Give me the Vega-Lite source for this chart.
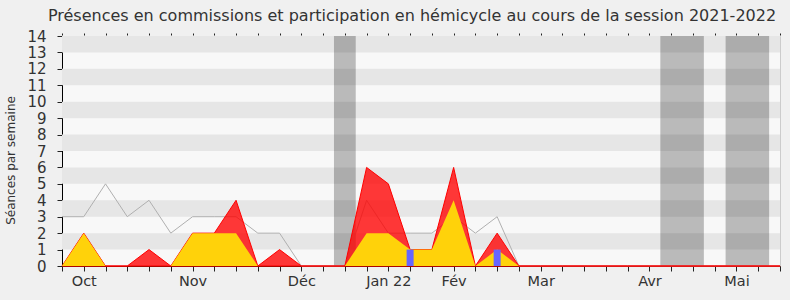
{
  "$schema": "https://vega.github.io/schema/vega-lite/v6.json",
  "autosize": {"type": "none"},
  "width": 718,
  "height": 230,
  "padding": {"left": 62, "top": 36, "right": 10, "bottom": 34},
  "background": "#f0f0f0",
  "title": {
    "text": "Présences en commissions et participation en hémicycle au cours de la session 2021-2022",
    "font": "DejaVu Sans",
    "fontSize": 16,
    "fontWeight": "normal",
    "color": "#333333",
    "anchor": "middle",
    "dx": -9,
    "offset": 5
  },
  "config": {
    "view": {"fill": "#f8f8f8", "stroke": "#cccccc"},
    "axis": {"labelFont": "DejaVu Sans", "titleFont": "DejaVu Sans", "labelColor": "#333333", "titleColor": "#333333", "domainColor": "#000000", "tickColor": "#222222", "grid": false, "labelOverlap": false, "tickCount": 100, "zindex": 1}
  },
  "datasets": {
    "weeks": [
      {"w": 0, "median": 3, "presence": 0, "participation": 0},
      {"w": 1, "median": 3, "presence": 2, "participation": 2},
      {"w": 2, "median": 5, "presence": 0, "participation": 0},
      {"w": 3, "median": 3, "presence": 0, "participation": 0},
      {"w": 4, "median": 4, "presence": 1, "participation": 0},
      {"w": 5, "median": 2, "presence": 0, "participation": 0},
      {"w": 6, "median": 3, "presence": 2, "participation": 2},
      {"w": 7, "median": 3, "presence": 2, "participation": 2},
      {"w": 8, "median": 3, "presence": 4, "participation": 2},
      {"w": 9, "median": 2, "presence": 0, "participation": 0},
      {"w": 10, "median": 2, "presence": 1, "participation": 0},
      {"w": 11, "median": 0, "presence": 0, "participation": 0},
      {"w": 12, "median": 0, "presence": 0, "participation": 0},
      {"w": 13, "median": 0, "presence": 0, "participation": 0},
      {"w": 14, "median": 4, "presence": 6, "participation": 2},
      {"w": 15, "median": 2, "presence": 5, "participation": 2},
      {"w": 16, "median": 2, "presence": 1, "participation": 1},
      {"w": 17, "median": 2, "presence": 1, "participation": 1},
      {"w": 18, "median": 3, "presence": 6, "participation": 4},
      {"w": 19, "median": 2, "presence": 0, "participation": 0},
      {"w": 20, "median": 3, "presence": 2, "participation": 1},
      {"w": 21, "median": 0, "presence": 0, "participation": 0},
      {"w": 22, "median": 0, "presence": 0, "participation": 0},
      {"w": 23, "median": 0, "presence": 0, "participation": 0},
      {"w": 24, "median": 0, "presence": 0, "participation": 0},
      {"w": 25, "median": 0, "presence": 0, "participation": 0},
      {"w": 26, "median": 0, "presence": 0, "participation": 0},
      {"w": 27, "median": 0, "presence": 0, "participation": 0},
      {"w": 28, "median": 0, "presence": 0, "participation": 0},
      {"w": 29, "median": 0, "presence": 0, "participation": 0},
      {"w": 30, "median": 0, "presence": 0, "participation": 0},
      {"w": 31, "median": 0, "presence": 0, "participation": 0},
      {"w": 32, "median": 0, "presence": 0, "participation": 0},
      {"w": 33, "median": 0, "presence": 0, "participation": 0}
    ],
    "questions": [
      {"w": 16, "q": 1},
      {"w": 20, "q": 1}
    ],
    "stripes": [
      {"lo": 1, "hi": 2}, {"lo": 3, "hi": 4}, {"lo": 5, "hi": 6}, {"lo": 7, "hi": 8},
      {"lo": 9, "hi": 10}, {"lo": 11, "hi": 12}, {"lo": 13, "hi": 14}
    ],
    "breaks": [
      {"start": 12.5, "end": 13.5},
      {"start": 27.5, "end": 29.5},
      {"start": 30.5, "end": 32.5}
    ]
  },
  "resolve": {"axis": {"x": "independent"}},
  "layer": [
    {
      "layer": [
        {
          "data": {"name": "stripes"},
          "mark": {"type": "rect", "color": "#e6e6e6"},
          "encoding": {
            "y": {"field": "lo", "type": "quantitative", "scale": {"domain": [0, 14], "nice": false, "padding": 0}, "axis": {"values": [0,1,2,3,4,5,6,7,8,9,10,11,12,13,14], "format": "d", "tickCount": 100, "title": "Séances par semaine", "titleFontSize": 12, "titleFontWeight": "normal", "labelFontSize": 15, "tickSize": 5, "labelPadding": 11, "titlePadding": 9, "titleY": 124}},
            "y2": {"field": "hi"}
          }
        },
        {
          "data": {"name": "breaks"},
          "mark": {"type": "rect", "color": "#000000", "opacity": 0.25},
          "encoding": {
            "x": {"field": "start", "type": "quantitative", "scale": {"domain": [0, 33], "nice": false, "zero": false, "padding": 0}, "axis": {"orient": "bottom", "title": null, "tickCount": 100, "domainColor": "#5a0a00", "values": [0,1,2,3,4,5,6,7,8,9,10,11,12,13,14,15,16,17,18,19,20,21,22,23,24,25,26,27,28,29,30,31,32,33], "labelExpr": "datum.value == 1 ? 'Oct' : datum.value == 6 ? 'Nov' : datum.value == 11 ? 'Déc' : datum.value == 15 ? 'Jan 22' : datum.value == 18 ? 'Fév' : datum.value == 22 ? 'Mar' : datum.value == 27 ? 'Avr' : datum.value == 31 ? 'Mai' : ''", "labelFontSize": 14.5, "tickSize": 5, "labelPadding": 3}},
            "x2": {"field": "end"}
          }
        },
        {
          "data": {"name": "weeks"},
          "mark": {"type": "line", "color": "#b0b0b0", "strokeWidth": 1},
          "encoding": {
            "x": {"field": "w", "type": "quantitative"},
            "y": {"field": "median", "type": "quantitative"}
          }
        },
        {
          "data": {"name": "weeks"},
          "mark": {"type": "area", "color": "#ff0000", "fillOpacity": 0.78, "stroke": "#ff0000", "strokeWidth": 1},
          "encoding": {
            "x": {"field": "w", "type": "quantitative"},
            "y": {"field": "presence", "type": "quantitative"}
          }
        },
        {
          "data": {"name": "weeks"},
          "mark": {"type": "area", "color": "#ffd20a", "fillOpacity": 1},
          "encoding": {
            "x": {"field": "w", "type": "quantitative"},
            "y": {"field": "participation", "type": "quantitative"}
          }
        }
      ]
    },
    {
      "data": {"name": "questions"},
      "mark": {"type": "bar", "color": "#6666ff", "width": 7},
      "encoding": {
        "x": {"field": "w", "type": "quantitative", "axis": {"orient": "top", "title": null, "labels": false, "domain": false, "tickSize": 2, "tickOffset": 0, "offset": 1, "tickCount": 100, "values": [0,1,2,3,4,5,6,7,8,9,10,11,12,13,14,15,16,17,18,19,20,21,22,23,24,25,26,27,28,29,30,31,32,33]}},
        "y": {"field": "q", "type": "quantitative"}
      }
    }
  ]
}
